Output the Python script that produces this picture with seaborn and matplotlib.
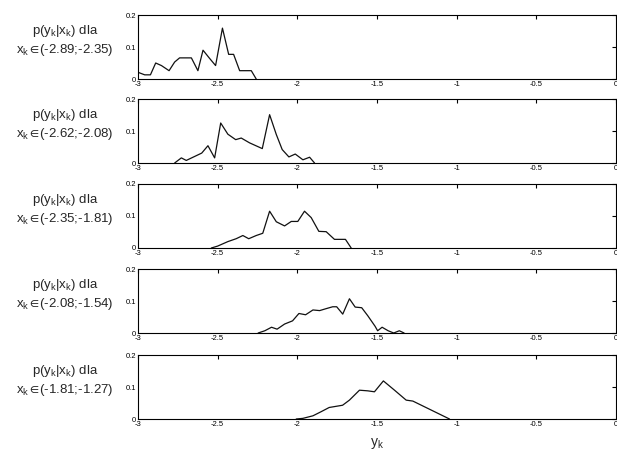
import numpy as np
import pandas as pd
import matplotlib
matplotlib.use("Agg")
import matplotlib.pyplot as plt
import seaborn as sns

sns.set_style("white")
plt.rcParams['font.family'] = ['Liberation Sans', 'DejaVu Sans']
plt.rcParams['mathtext.fontset'] = 'custom'
plt.rcParams['mathtext.rm'] = 'Liberation Sans'
plt.rcParams['mathtext.it'] = 'Liberation Sans'
plt.rcParams['mathtext.fallback'] = 'stixsans'

intervals = ["(-2.89;-2.35)", "(-2.62;-2.08)", "(-2.35;-1.81)", "(-2.08;-1.54)", "(-1.81;-1.27)"]

y1 = [-3.0, -2.958, -2.922, -2.889, -2.853, -2.805, -2.77, -2.739, -2.665, -2.624, -2.592, -2.55, -2.513, -2.47, -2.431, -2.40, -2.362, -2.289, -2.258]
p1 = [0.021, 0.013, 0.013, 0.050, 0.042, 0.026, 0.053, 0.066, 0.066, 0.026, 0.090, 0.064, 0.042, 0.159, 0.077, 0.077, 0.026, 0.026, 0.0]

y2 = [-2.77, -2.728, -2.697, -2.655, -2.60, -2.561, -2.519, -2.481, -2.436, -2.387, -2.352, -2.30, -2.22, -2.174, -2.132, -2.095, -2.053, -2.013, -1.965, -1.923, -1.892]
p2 = [0.0, 0.016, 0.008, 0.018, 0.031, 0.054, 0.016, 0.125, 0.090, 0.073, 0.078, 0.063, 0.045, 0.151, 0.089, 0.042, 0.019, 0.028, 0.010, 0.018, 0.0]

y3 = [-2.54, -2.50, -2.436, -2.384, -2.342, -2.305, -2.258, -2.217, -2.174, -2.132, -2.08, -2.038, -1.997, -1.955, -1.913, -1.865, -1.819, -1.767, -1.698, -1.662]
p3 = [0.0, 0.006, 0.020, 0.029, 0.039, 0.029, 0.039, 0.046, 0.115, 0.082, 0.069, 0.083, 0.083, 0.115, 0.095, 0.052, 0.051, 0.027, 0.027, 0.0]

y4 = [-2.246, -2.204, -2.162, -2.127, -2.08, -2.03, -1.99, -1.948, -1.902, -1.86, -1.82, -1.778, -1.753, -1.715, -1.673, -1.637, -1.596, -1.558, -1.512, -1.496, -1.468, -1.43, -1.395, -1.36, -1.33]
p4 = [0.0, 0.007, 0.018, 0.012, 0.028, 0.038, 0.061, 0.057, 0.072, 0.070, 0.076, 0.082, 0.082, 0.059, 0.107, 0.081, 0.079, 0.054, 0.021, 0.007, 0.018, 0.007, 0.0, 0.007, 0.0]

y5 = [-2.007, -1.965, -1.902, -1.85, -1.80, -1.716, -1.673, -1.61, -1.558, -1.516, -1.46, -1.39, -1.317, -1.275, -1.045]
p5 = [0.0, 0.002, 0.010, 0.023, 0.036, 0.043, 0.059, 0.090, 0.088, 0.085, 0.119, 0.090, 0.059, 0.056, 0.0]

series = [(y1, p1), (y2, p2), (y3, p3), (y4, p4), (y5, p5)]

W, H = 617, 462
fig = plt.figure(figsize=(W / 100, H / 100), dpi=100)
left, right = 138, 616
tops = [15, 99, 184, 269, 355]
height = 64

for i, ((ys, ps), iv) in enumerate(zip(series, intervals)):
    top = tops[i]
    ax = fig.add_axes([left / W, 1 - (top + height) / H, (right - left) / W, height / H])
    df = pd.DataFrame({"y": ys, "p": ps})
    sns.lineplot(data=df, x="y", y="p", ax=ax, color="#111111", linewidth=0.9, sort=False)
    ax.set_xlim(-3, 0)
    ax.set_ylim(0, 0.2)
    ax.set_xticks([-3, -2.5, -2, -1.5, -1, -0.5, 0])
    ax.set_xticklabels(["-3", "-2.5", "-2", "-1.5", "-1", "-0.5", "0"])
    ax.set_yticks([0, 0.1, 0.2])
    ax.set_yticklabels(["0", "0.1", "0.2"])
    ax.tick_params(direction="in", top=True, right=True, length=3, width=0.8,
                   labelsize=5.5, pad=1.5, colors="black")
    for s in ax.spines.values():
        s.set_color("black")
        s.set_linewidth(0.8)
    ax.set_xlabel("")
    ax.set_ylabel("")
    ax.text((65 - left) / (right - left), 0.6,
            "p(y$_\\mathregular{k}$|x$_\\mathregular{k}$) dla\nx$_\\mathregular{k}\\,\\!\\in\\!$" + iv,
            transform=ax.transAxes, ha="center", va="center", fontsize=9.5,
            linespacing=1.3)
    if i == 4:
        ax.set_xlabel("y$_\\mathregular{k}$", fontsize=10, labelpad=6)

fig.savefig("out.png", dpi=100)
